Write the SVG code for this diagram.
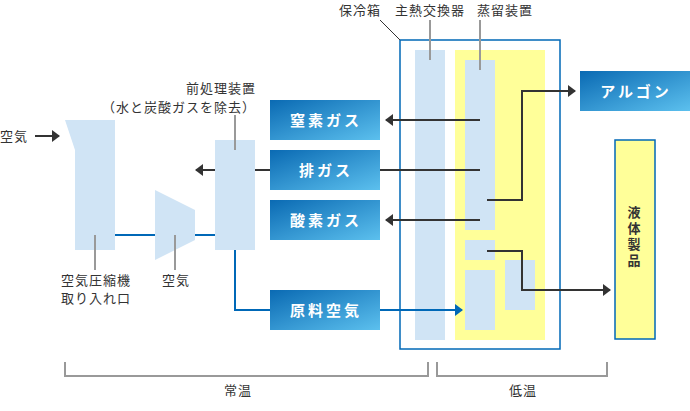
<svg xmlns="http://www.w3.org/2000/svg" width="690" height="411" viewBox="0 0 690 411">
<defs>
<linearGradient id="bg" x1="0" y1="0" x2="1" y2="1">
<stop offset="0" stop-color="#0a6ab3"/>
<stop offset="1" stop-color="#5cc0ee"/>
</linearGradient>
<marker id="ah" markerWidth="8" markerHeight="12" refX="7" refY="6" orient="auto" markerUnits="userSpaceOnUse">
<path d="M0,0 L8,6 L0,12 z" fill="#333"/>
</marker>
<marker id="ahb" markerWidth="8" markerHeight="12" refX="7" refY="6" orient="auto" markerUnits="userSpaceOnUse">
<path d="M0,0 L8,6 L0,12 z" fill="#0068b7"/>
</marker>
</defs>
<style>
.lb{fill:#d0e4f5}
.yl{fill:#ffff99}
.t{font-family:"Noto Sans CJK JP","Noto Sans",sans-serif;font-size:13px;letter-spacing:1px;fill:#333}
.bt{font-family:"Noto Sans CJK JP","Noto Sans",sans-serif;font-size:15px;font-weight:bold;letter-spacing:3px;fill:#fff;text-anchor:middle}
.vt{font-family:"Noto Sans CJK JP","Noto Sans",sans-serif;font-size:13px;font-weight:bold;letter-spacing:3px;fill:#333;writing-mode:vertical-rl}
.ptr{stroke:#999;stroke-width:2;fill:none}
.dk{stroke:#333;stroke-width:2;fill:none}
.bl{stroke:#0068b7;stroke-width:2;fill:none}
</style>

<g id="compressor">
<polygon class="lb" points="65,120 115,120 115,250 75,250 75,150"/>
<text class="t" x="96" y="285" text-anchor="middle">空気圧縮機</text>
<text class="t" x="96" y="303" text-anchor="middle">取り入れ口</text>
</g>
<g id="air-in">
<text class="t" x="0" y="141">空気</text>
</g>
<g id="air-compressor">
<polygon class="lb" points="155,190 195,210 195,240 155,260"/>
<text class="t" x="176" y="285" text-anchor="middle">空気</text>
</g>
<g id="pretreatment">
<rect class="lb" x="215" y="140" width="40" height="110"/>
<text class="t" x="256" y="93" text-anchor="end">前処理装置</text>
<text class="t" x="256" y="112" text-anchor="end">（水と炭酸ガスを除去）</text>
</g>
<g id="coldbox">
<rect x="400" y="40" width="160" height="309" fill="none" stroke="#0068b7" stroke-width="1.5"/>
<text class="t" x="339" y="15">保冷箱</text>
</g>
<g id="heat-exchanger">
<rect class="lb" x="415" y="50" width="30" height="290"/>
<text class="t" x="395" y="15">主熱交換器</text>
</g>
<g id="distillation">
<rect class="yl" x="455" y="50" width="90" height="290"/>
<rect class="lb" x="465" y="60" width="30" height="170"/>
<rect class="lb" x="465" y="240" width="30" height="20"/>
<rect class="lb" x="465" y="270" width="30" height="60"/>
<rect class="lb" x="505" y="260" width="30" height="50"/>
<text class="t" x="477" y="15">蒸留装置</text>
</g>
<g id="nitrogen">
<rect x="270" y="100" width="110" height="40" fill="url(#bg)"/>
<text class="bt" x="326" y="126">窒素ガス</text>
</g>
<g id="exhaust">
<rect x="270" y="150" width="110" height="40" fill="url(#bg)"/>
<text class="bt" x="326" y="176">排ガス</text>
</g>
<g id="oxygen">
<rect x="270" y="200" width="110" height="40" fill="url(#bg)"/>
<text class="bt" x="326" y="226">酸素ガス</text>
</g>
<g id="raw-air">
<rect x="270" y="290" width="110" height="40" fill="url(#bg)"/>
<text class="bt" x="326" y="316">原料空気</text>
</g>
<g id="argon">
<rect x="580" y="71" width="110" height="40" fill="url(#bg)"/>
<text class="bt" x="636" y="97">アルゴン</text>
</g>
<g id="liquid">
<rect class="yl" x="615" y="140" width="40" height="199" stroke="#0068b7" stroke-width="1.5"/>
<text class="vt" x="634" y="206">液体製品</text>
</g>
<g id="ranges">
<path class="ptr" d="M65,362 V376 H428 V362"/>
<path class="ptr" d="M437,362 V376 H607 V362"/>
<text class="t" x="238" y="395" text-anchor="middle">常温</text>
<text class="t" x="523" y="395" text-anchor="middle">低温</text>
</g>

<g id="connectors">
<path class="ptr" d="M95,235 V270"/>
<path class="ptr" d="M175,235 V270"/>
<path class="ptr" d="M235,115 V150"/>
<path class="ptr" d="M430,20 V60" />
<path class="ptr" d="M480,20 V70" />
<path d="M380,20 L400,40" stroke="#333" stroke-width="1" fill="none"/>
<path class="dk" d="M35,136 H59" marker-end="url(#ah)"/>
<path class="bl" d="M115,235 H155"/>
<path class="bl" d="M195,235 H215"/>
<path class="dk" d="M215,170 H196" marker-end="url(#ah)"/>
<path class="dk" d="M255,170 H270"/>
<path class="dk" d="M380,170 H480"/>
<path class="dk" d="M480,120 H386" marker-end="url(#ah)"/>
<path class="dk" d="M480,220 H386" marker-end="url(#ah)"/>
<path class="dk" d="M487,200 H522 V91 H575" marker-end="url(#ah)"/>
<path class="dk" d="M487,251 H522 V290 H610" marker-end="url(#ah)"/>
<path class="bl" d="M235,250 V310 H270"/>
<path class="bl" d="M380,310 H462" marker-end="url(#ahb)"/>
</g>
</svg>
